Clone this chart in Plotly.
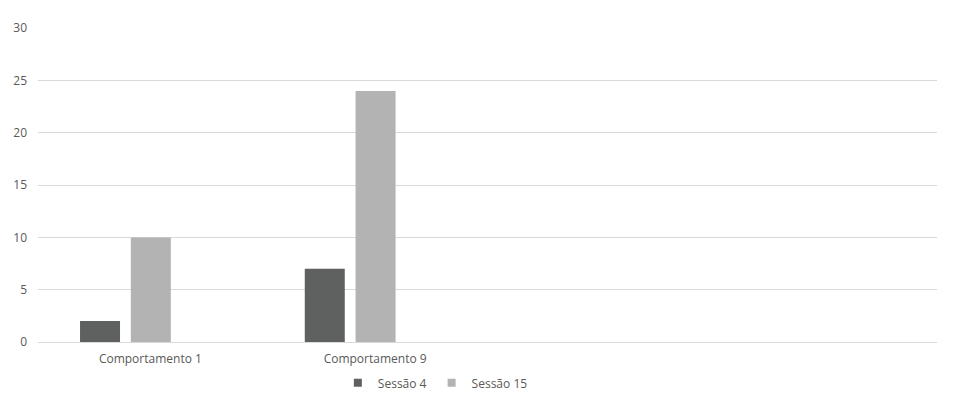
import plotly.graph_objects as go

categories = ["Comportamento 1", "Comportamento 9", " ", "  "]
sessao_4 = [2, 7, None, None]
sessao_15 = [10, 24, None, None]

FONT = dict(family="Open Sans, Liberation Sans, Arial", size=12, color="#595959")
DARK = "#5f6161"
LIGHT = "#b3b3b3"

fig = go.Figure()
fig.add_trace(
    go.Bar(
        x=categories,
        y=sessao_4,
        name="Sessão 4",
        marker=dict(color=DARK, line=dict(width=0)),
        width=0.178,
        offset=-0.313,
        showlegend=False,
    )
)
fig.add_trace(
    go.Bar(
        x=categories,
        y=sessao_15,
        name="Sessão 15",
        marker=dict(color=LIGHT, line=dict(width=0)),
        width=0.178,
        offset=-0.087,
        showlegend=False,
    )
)
# legend-only entries with small square swatches
for name, color in [("Sessão 4", DARK), ("Sessão 15", LIGHT)]:
    fig.add_trace(
        go.Scatter(
            x=[None],
            y=[None],
            mode="markers",
            name=name,
            marker=dict(symbol="square", size=8, color=color),
        )
    )

fig.update_layout(
    width=967,
    height=409,
    barmode="overlay",
    plot_bgcolor="white",
    paper_bgcolor="white",
    font=FONT,
    margin=dict(l=30, r=38, t=20, b=75),
    legend=dict(
        orientation="h",
        x=0.442,
        xanchor="center",
        y=-0.13,
        yanchor="middle",
        font=FONT,
        itemwidth=30,
        tracegroupgap=0,
        traceorder="normal",
    ),
)
fig.update_xaxes(
    type="category",
    categoryorder="array",
    categoryarray=categories,
    range=[-0.5, 3.5],
    showgrid=False,
    showline=True,
    linecolor="#d9d9d9",
    linewidth=1,
    ticks="",
    tickfont=FONT,
    ticklabelstandoff=6,
    automargin=False,
)
fig.update_yaxes(
    range=[0, 30.02],
    tickvals=[0, 5, 10, 15, 20, 25, 30],
    showgrid=True,
    gridcolor="#d9d9d9",
    gridwidth=1,
    zeroline=False,
    showline=False,
    ticks="",
    tickfont=FONT,
    ticklabelstandoff=10,
    automargin=False,
)

fig.write_html("out.html")
